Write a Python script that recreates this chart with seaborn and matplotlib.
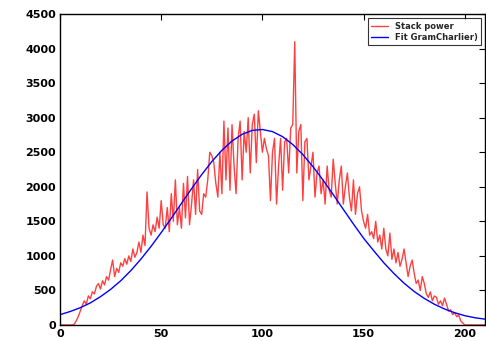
import numpy as np
import pandas as pd
import matplotlib
matplotlib.use("Agg")
import matplotlib.pyplot as plt
import seaborn as sns

# Stack power (red), one value per x = 0..210
stack_power = [
    0, 0, 0, 0, 0, 0, 0, 10, 60, 120,
    200, 280, 350, 300, 420, 380, 480, 450, 560, 600,
    520, 640, 580, 700, 650, 800, 940, 700, 820, 760,
    900, 850, 960, 880, 1000, 920, 1100, 980, 1050, 1200,
    1050, 1300, 1150, 1925, 1400, 1300, 1450, 1350, 1560, 1400,
    1800, 1450, 1400, 1700, 1350, 1900, 1500, 2100, 1450, 1700,
    1400, 2050, 1550, 2150, 1450, 1750, 2100, 1600, 2250, 1650,
    1600, 1900, 1850, 2100, 2500, 2450, 2350, 2050, 1850, 2500,
    1900, 2950, 2100, 2850, 1950, 2900, 2300, 1900, 2700, 2950,
    2100, 2800, 2500, 3000, 2200, 2900, 3050, 2350, 3100, 2800,
    2500, 2700, 2550, 2450, 1800, 2500, 2700, 1750, 2300, 2700,
    1950, 2650, 2700, 2200, 2850, 2900, 4100, 2200, 2800, 2900,
    1800, 2650, 2700, 2100, 2300, 2500, 1850, 2200, 2300, 1900,
    2100, 1750, 2300, 1950, 1850, 2400, 2050, 1750, 2100, 2300,
    1750, 2000, 2200, 1850, 1650, 2100, 1600, 1900, 2000, 1650,
    1500, 1400, 1600, 1300, 1350, 1250, 1500, 1200, 1300, 1100,
    1400, 1100, 1000, 1330, 950, 1100, 900, 1050, 850, 950,
    1100, 900, 700, 850, 940, 750, 600, 650, 500, 700,
    600, 450, 400, 480, 350, 420, 400, 300, 350, 280,
    390, 300, 200, 220, 150, 180, 120, 145, 60, 30,
    0, 0, 0, 0, 0, 0, 0, 0, 0, 0, 0,
]
power_x = list(range(len(stack_power)))

# Fit GramCharlier (blue), read every 5 units
fit_x = list(range(0, 215, 5))
fit_y = [150, 195, 250, 320, 410, 515, 640, 787, 954, 1138,
         1337, 1545, 1759, 1972, 2176, 2364, 2528, 2662, 2759, 2816,
         2829, 2798, 2725, 2612, 2466, 2291, 2096, 1887, 1673, 1461,
         1256, 1075, 900, 745, 605, 485, 385, 300, 232, 178,
         135, 105, 85]

sns.set_theme(style="white")
plt.rcParams['font.family'] = ['DejaVu Sans']

df_p = pd.DataFrame({"x": power_x, "y": stack_power})
df_f = pd.DataFrame({"x": fit_x, "y": fit_y})

fig = plt.figure(figsize=(4.86, 3.41), dpi=100)
fig.patch.set_facecolor("white")
ax = fig.add_axes([60/486, 1-325/341, 425/486, 311/341])

sns.lineplot(data=df_p, x="x", y="y", ax=ax, color="red", linewidth=1.0,
             label="Stack power", alpha=0.75)
sns.lineplot(data=df_f, x="x", y="y", ax=ax, color="blue", linewidth=1.0,
             label="Fit GramCharlier)")

ax.set_xlim(0, 210)
ax.set_ylim(0, 4500)
ax.set_xticks([0, 50, 100, 150, 200])
ax.set_yticks(range(0, 4501, 500))
ax.set_xlabel("")
ax.set_ylabel("")
for s in ax.spines.values():
    s.set_color("black")
    s.set_linewidth(1.0)
ax.tick_params(direction="in", length=4, width=0.8, top=True, right=True,
               labelsize=8, colors="black", pad=3)
for lab in ax.get_xticklabels() + ax.get_yticklabels():
    lab.set_fontweight("bold")

leg = ax.legend(loc="upper right", frameon=True, fancybox=False,
                borderpad=0.4, handlelength=2.0, labelspacing=0.3,
                prop={"size": 6, "weight": "bold"})
leg.get_frame().set_edgecolor("black")
leg.get_frame().set_linewidth(0.8)

fig.savefig("out.png", dpi=100, facecolor="white")
